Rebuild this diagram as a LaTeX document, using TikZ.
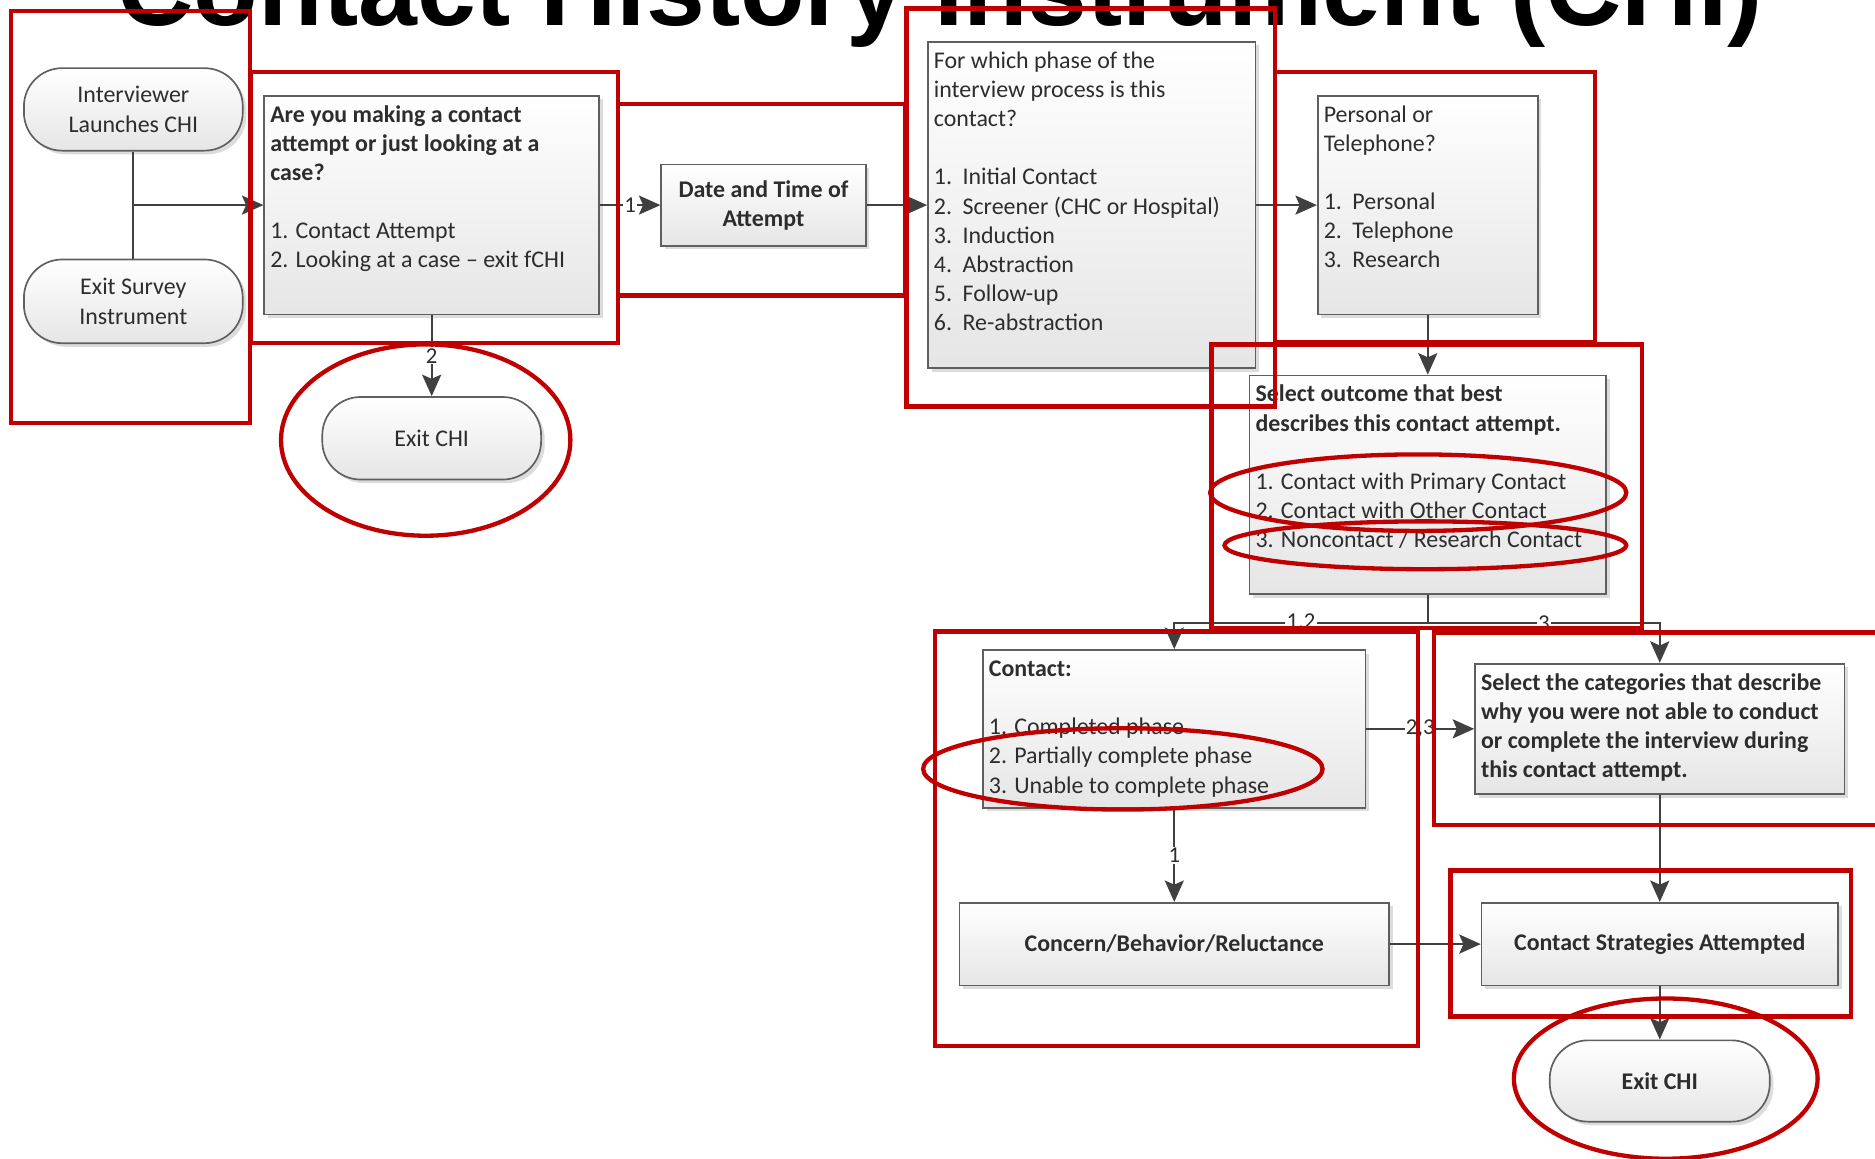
\documentclass[tikz,border=0pt]{standalone}
\usepackage{fontspec}
\setmainfont{Carlito}
\newfontfamily\titlefont{Liberation Sans}
\usetikzlibrary{shapes.misc,shadows,arrows.meta}
\definecolor{redc}{RGB}{192,0,0}
\definecolor{boxline}{RGB}{95,95,95}
\definecolor{txt}{RGB}{45,45,45}
\definecolor{lineg}{RGB}{64,64,64}
\newcommand\bt[3]{\parbox[c][\dimexpr #2pt-10pt\relax][t]{\dimexpr #1pt-10pt\relax}{\strut #3}}
\newcommand\li[1]{\makebox[24pt][l]{#1}}
\begin{document}
\begin{tikzpicture}[x=1pt,y=-1pt,
  box/.style={draw=boxline, line width=1.4pt, top color=white, bottom color=black!10,
    drop shadow={shadow xshift=3pt,shadow yshift=-3pt,fill=black!30,opacity=0.45},
    inner sep=5pt, text=txt, font=\fontsize{20}{24.4}\selectfont},
  cbox/.style={box, inner sep=0pt, align=center},
  term/.style={cbox, rounded corners=32pt},
  con/.style={draw=lineg, line width=1.6pt},
  arr/.style={con, -{Stealth[length=18pt,width=16pt,inset=3.5pt]}},
  lbl/.style={fill=white, inner sep=1pt, text=txt, font=\fontsize{19}{19}\selectfont},
  redl/.style={draw=redc, line width=3.6pt},
]
\useasboundingbox (0,0) rectangle (1568,969);
\clip (0,0) rectangle (1568,969);

% title (cut off at the top)
\node[anchor=base west, inner sep=0pt, font=\titlefont\bfseries\fontsize{88}{90}\selectfont] (title) at (98,21)
  {\resizebox{1376pt}{!}{Contact History Instrument (CHI)}};

% nodes
\node[term, minimum width=183pt, minimum height=69pt] (t1) at (111.5,91.5) {Interviewer\\Launches CHI};
\node[term, minimum width=183pt, minimum height=70pt] (t2) at (111.5,252) {Exit Survey\\Instrument};
\node[box] (ask) at (361,171.5) {\bt{280}{183}{\bfseries Are you making a contact\\attempt or just looking at a\\case?\\[24.4pt]\mdseries 1. Contact Attempt\\2. Looking at a case -- exit fCHI}};
\node[cbox, minimum width=171pt, minimum height=68pt, font=\fontsize{20}{24.4}\selectfont\bfseries] (date) at (638.5,171.5) {Date and Time of\\Attempt};
\node[box] (phase) at (913,171.5) {\bt{274}{273}{For which phase of the\\interview process is this\\contact?\\[24.4pt]\li{1.}Initial Contact\\\li{2.}Screener (CHC or Hospital)\\\li{3.}Induction\\\li{4.}Abstraction\\\li{5.}Follow-up\\\li{6.}Re-abstraction}};
\node[box] (pers) at (1194,171.5) {\bt{184}{183}{Personal or\\Telephone?\\[24.4pt]\li{1.}Personal\\\li{2.}Telephone\\\li{3.}Research}};
\node[term, minimum width=183pt, minimum height=69pt] (ex1) at (361,366.5) {Exit CHI};
\node[box] (outc) at (1194,405.5) {\bt{298}{183}{\bfseries Select outcome that best\\describes this contact attempt.\\[24.4pt]\mdseries 1. Contact with Primary Contact\\2. Contact with Other Contact\\3. Noncontact / Research Contact}};
\node[box] (cont) at (982,609.5) {\bt{320}{132}{\bfseries Contact:\\[24.4pt]\mdseries 1. Completed phase\\2. Partially complete phase\\3. Unable to complete phase}};
\node[box] (cat) at (1388,609.5) {\bt{309}{109}{\bfseries Select the categories that describe\\why you were not able to conduct\\or complete the interview during\\this contact attempt.}};
\node[cbox, minimum width=359pt, minimum height=69pt, font=\fontsize{20}{24.4}\selectfont\bfseries] (conc) at (982,789.5) {Concern/Behavior/Reluctance};
\node[cbox, minimum width=298pt, minimum height=69pt, font=\fontsize{20}{24.4}\selectfont\bfseries] (strat) at (1388,789.5) {Contact Strategies Attempted};
\node[term, minimum width=184pt, minimum height=68pt, font=\fontsize{20}{24.4}\selectfont\bfseries] (ex2) at (1388,904) {Exit CHI};

% connectors
\coordinate (j1) at (111.5,171.5);
\coordinate (sp) at (1194,521);
\draw[con] (t1) -- (t2);
\draw[arr] (j1) -- (ask.west);
\draw[arr] (ask.east) -- node[lbl]{1} (date.west);
\draw[arr] (date.east) -- (phase.west);
\draw[arr] (phase.east) -- (pers.west);
\draw[arr] (pers.south) -- (outc.north);
\draw[arr] (ask.south) -- node[lbl]{2} (ex1.north);
\draw[con] (outc.south) -- (sp);
\draw[arr] (sp) -| node[lbl, pos=0.25]{1,2} (cont.north);
\draw[arr] (sp) -| node[lbl, pos=0.25]{3} (cat.north);
\draw[arr] (cont.east) -- node[lbl]{2,3} (cat.west);
\draw[arr] (cont.south) -- node[lbl]{1} (conc.north);
\draw[arr] (cat.south) -- (strat.north);
\draw[arr] (conc.east) -- (strat.west);
\draw[arr] (strat.south) -- (ex2.north);

% red annotations
\draw[redl] (9,9) rectangle (209,354);
\draw[redl] (210,60) rectangle (517,287);
\draw[redl] (517,87) rectangle (757,247);
\draw[redl] (758,7) rectangle (1066,340);
\draw[redl] (1066,60) rectangle (1334,286);
\draw[redl] (1013,288) rectangle (1373,525);
\draw[redl] (782,528) rectangle (1186,875);
\draw[redl] (1199,529) rectangle (1590,690);
\draw[redl] (1213,728) rectangle (1548,850);
\draw[redl] (356,368) ellipse [x radius=121pt, y radius=80pt];
\draw[redl] (1186,412) ellipse [x radius=174pt, y radius=32pt];
\draw[redl] (1192,456) ellipse [x radius=168pt, y radius=20pt];
\draw[redl] (939,643) ellipse [x radius=167pt, y radius=34pt];
\draw[redl] (1393,902) ellipse [x radius=127pt, y radius=67pt];
\end{tikzpicture}
\end{document}
